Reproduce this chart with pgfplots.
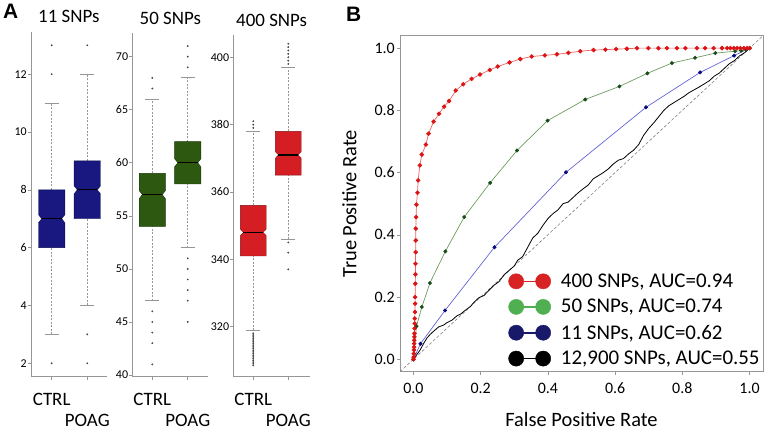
\documentclass[border=0pt]{standalone}
\usepackage{fontspec}
\setmainfont{Carlito}
\newfontfamily\arialfont{Liberation Sans}
\usepackage{pgfplots}
\pgfplotsset{compat=1.18}

\definecolor{navybox}{RGB}{24,24,128}
\definecolor{greenbox}{RGB}{44,88,16}
\definecolor{redbox}{RGB}{212,30,36}
\definecolor{whisk}{RGB}{150,150,150}
\definecolor{outl}{RGB}{70,70,70}
\definecolor{axgray}{RGB}{150,150,150}
\definecolor{rocred}{RGB}{221,20,20}
\definecolor{rocredline}{RGB}{235,100,100}
\definecolor{rocgreen}{RGB}{25,75,25}
\definecolor{rocgreenline}{RGB}{110,155,95}
\definecolor{rocblue}{RGB}{10,10,125}
\definecolor{rocblueline}{RGB}{100,100,215}
\definecolor{legred}{RGB}{215,35,35}
\definecolor{leggreen}{RGB}{80,175,80}
\definecolor{legnavy}{RGB}{25,25,105}

\pgfplotsset{
  panelA/.style={
    anchor=south west, scale only axis,
    axis lines*=left,
    axis line style={axgray, line width=0.6bp},
    tick style={axgray, line width=0.6bp},
    tick align=outside, major tick length=3bp,
    xtick={1}, xticklabels={CTRL},
    extra x ticks={2}, extra x tick labels={POAG},
    extra x tick style={xticklabel style={yshift=-21bp}},
    xticklabel style={font=\fontsize{19}{19}\selectfont, anchor=north, inner sep=0pt, yshift=-13bp},
    yticklabel style={font=\fontsize{12}{12}\selectfont, anchor=east, inner sep=0pt, xshift=-1bp},
    /pgf/number format/assume math mode=true,
    title style={font=\fontsize{19}{19}\selectfont, at={(0.5,1)}, anchor=base, inner sep=0pt, yshift=3bp},
    clip=false,
  },
  whisker/.style={whisk, line width=0.6bp, dash pattern=on 2bp off 1.5bp, forget plot},
  cap/.style={whisk, line width=0.8bp, forget plot},
  outlier/.style={only marks, mark=*, mark size=0.7bp, outl, forget plot},
  medline/.style={black, line width=1.2bp, forget plot},
}

\begin{document}
\begin{tikzpicture}
\useasboundingbox (0,0) rectangle (765bp,431bp);

\node[anchor=base west, inner sep=0pt, font=\arialfont\bfseries\fontsize{21}{21}\selectfont] at (3bp,412.7bp) {A};
\node[anchor=base west, inner sep=0pt, font=\arialfont\bfseries\fontsize{21}{21}\selectfont] at (346bp,409.3bp) {B};

% ---------- Panel A1: 11 SNPs ----------
\begin{axis}[panelA, at={(31bp,54.3bp)}, width=75.7bp, height=345bp,
  xmin=0.419, xmax=2.545, ymin=1.536, ymax=13.47,
  ytick={2,4,6,8,10,12}, title={11 SNPs}]
\addplot[whisker] coordinates {(1,3) (1,6)};
\addplot[whisker] coordinates {(1,8) (1,11)};
\addplot[cap] coordinates {(0.8,3) (1.2,3)};
\addplot[cap] coordinates {(0.8,11) (1.2,11)};
\addplot[whisker] coordinates {(2,4) (2,7)};
\addplot[whisker] coordinates {(2,9) (2,12)};
\addplot[cap] coordinates {(1.8,4) (2.2,4)};
\addplot[cap] coordinates {(1.8,12) (2.2,12)};
\addplot[fill=navybox, draw=navybox!60!black, line width=0.4bp, forget plot] coordinates
 {(0.63,6) (1.37,6) (1.37,6.86) (1.28,7) (1.37,7.14) (1.37,8) (0.63,8) (0.63,7.14) (0.72,7) (0.63,6.86)} --cycle;
\addplot[fill=navybox, draw=navybox!60!black, line width=0.4bp, forget plot] coordinates
 {(1.63,7) (2.37,7) (2.37,7.86) (2.28,8) (2.37,8.14) (2.37,9) (1.63,9) (1.63,8.14) (1.72,8) (1.63,7.86)} --cycle;
\addplot[medline] coordinates {(0.72,7) (1.28,7)};
\addplot[medline] coordinates {(1.72,8) (2.28,8)};
\addplot[outlier] coordinates {(1,2) (1,12) (1,13) (2,2) (2,3) (2,13)};
\end{axis}

% ---------- Panel A2: 50 SNPs ----------
\begin{axis}[panelA, at={(132.3bp,54.3bp)}, width=76bp, height=343.7bp,
  xmin=0.435, xmax=2.58, ymin=39.84, ymax=72.23,
  ytick={40,45,50,55,60,65,70}, title={50 SNPs}]
\addplot[whisker] coordinates {(1,47) (1,54)};
\addplot[whisker] coordinates {(1,59) (1,66)};
\addplot[cap] coordinates {(0.8,47) (1.2,47)};
\addplot[cap] coordinates {(0.8,66) (1.2,66)};
\addplot[whisker] coordinates {(2,52) (2,58)};
\addplot[whisker] coordinates {(2,62) (2,68)};
\addplot[cap] coordinates {(1.8,52) (2.2,52)};
\addplot[cap] coordinates {(1.8,68) (2.2,68)};
\addplot[fill=greenbox, draw=greenbox!60!black, line width=0.4bp, forget plot] coordinates
 {(0.63,54) (1.37,54) (1.37,56.62) (1.28,57) (1.37,57.38) (1.37,59) (0.63,59) (0.63,57.38) (0.72,57) (0.63,56.62)} --cycle;
\addplot[fill=greenbox, draw=greenbox!60!black, line width=0.4bp, forget plot] coordinates
 {(1.63,58) (2.37,58) (2.37,59.62) (2.28,60) (2.37,60.38) (2.37,62) (1.63,62) (1.63,60.38) (1.72,60) (1.63,59.62)} --cycle;
\addplot[medline] coordinates {(0.72,57) (1.28,57)};
\addplot[medline] coordinates {(1.72,60) (2.28,60)};
\addplot[outlier] coordinates {(1,41) (1,43) (1,44) (1,45) (1,46) (1,67) (1,68)
 (2,45) (2,47) (2,48) (2,49) (2,50) (2,51) (2,69) (2,70) (2,71)};
\end{axis}

% ---------- Panel A3: 400 SNPs ----------
\begin{axis}[panelA, at={(233.3bp,54.3bp)}, width=76.7bp, height=341.7bp,
  xmin=0.43, xmax=2.62, ymin=305.15, ymax=406.6,
  ytick={320,340,360,380,400}, title={400 SNPs}]
\addplot[whisker] coordinates {(1,319) (1,341)};
\addplot[whisker] coordinates {(1,356) (1,378)};
\addplot[cap] coordinates {(0.8,319) (1.2,319)};
\addplot[cap] coordinates {(0.8,378) (1.2,378)};
\addplot[whisker] coordinates {(2,346) (2,365)};
\addplot[whisker] coordinates {(2,378) (2,397)};
\addplot[cap] coordinates {(1.8,346) (2.2,346)};
\addplot[cap] coordinates {(1.8,397) (2.2,397)};
\addplot[fill=redbox, draw=redbox!60!black, line width=0.4bp, forget plot] coordinates
 {(0.63,341) (1.37,341) (1.37,347) (1.28,348) (1.37,349) (1.37,356) (0.63,356) (0.63,349) (0.72,348) (0.63,347)} --cycle;
\addplot[fill=redbox, draw=redbox!60!black, line width=0.4bp, forget plot] coordinates
 {(1.63,365) (2.37,365) (2.37,370) (2.28,371) (2.37,372) (2.37,378) (1.63,378) (1.63,372) (1.72,371) (1.63,370)} --cycle;
\addplot[medline] coordinates {(0.72,348) (1.28,348)};
\addplot[medline] coordinates {(1.72,371) (2.28,371)};
\addplot[outlier] coordinates {(1,379) (1,380) (1,381)
 (1,318) (1,317.5) (1,317) (1,316.5) (1,316) (1,315.5) (1,315) (1,314.5) (1,314) (1,313.5)
 (1,313) (1,312.5) (1,312) (1,311.5) (1,311) (1,310.5) (1,310) (1,309.5) (1,309) (1,308.5)
 (2,337) (2,342) (2,345) (2,398) (2,399) (2,400) (2,401) (2,402) (2,403) (2,404)};
\end{axis}

% ---------- Panel B: ROC ----------
\begin{axis}[anchor=south west, at={(400bp,59.3bp)}, scale only axis,
  width=363bp, height=336bp,
  xmin=-0.04, xmax=1.04, ymin=-0.04, ymax=1.04,
  axis line style={axgray, line width=0.6bp},
  tick style={axgray, line width=0.6bp},
  tick align=outside, major tick length=3bp,
  xtick pos=lower, ytick pos=left,
  xtick={0,0.2,0.4,0.6,0.8,1.0}, ytick={0,0.2,0.4,0.6,0.8,1.0},
  /pgf/number format/assume math mode=true,
  /pgf/number format/.cd, fixed, fixed zerofill, precision=1, /pgfplots/.cd,
  xticklabel style={font=\fontsize{16}{16}\selectfont, anchor=north, inner sep=0pt, yshift=-8bp},
  yticklabel style={font=\fontsize{16}{16}\selectfont, anchor=east, inner sep=0pt, xshift=-2bp},
  xlabel={False Positive Rate}, ylabel={True Positive Rate},
  xlabel style={font=\fontsize{20.5}{20.5}\selectfont, at={(axis description cs:0.5,-0.1616)}, anchor=base, inner sep=0pt},
  ylabel style={font=\fontsize{20.5}{20.5}\selectfont, at={(axis description cs:-0.12,0.5)}, anchor=base, inner sep=0pt},
  legend image code/.code={
    \draw[#1, line width=1.6bp] (0bp,0bp) -- (27bp,0bp);
    \fill[#1] (0bp,0bp) circle (7.6bp);
    \fill[#1] (27bp,0bp) circle (7.6bp);
  },
  legend style={at={(0.298,0.295)}, anchor=north west, draw=none, fill=none,
    font=\fontsize{21}{21}\selectfont, inner sep=0pt, row sep=8.5bp,
    nodes={inner sep=1bp}},
  legend cell align=left,
  /tikz/every odd column/.append style={column sep=9bp},
]
\addplot[gray, line width=0.6bp, dash pattern=on 3bp off 2bp, forget plot] coordinates {(-0.04,-0.04) (1.04,1.04)};

% 12,900 SNPs
\addplot[black, line width=0.8bp, forget plot] coordinates {
(0,0) (0.01,0.015) (0.02,0.03) (0.03,0.05) (0.04,0.068) (0.05,0.08) (0.06,0.09) (0.075,0.104)
(0.09,0.11) (0.1,0.118) (0.115,0.126) (0.13,0.14) (0.14,0.145) (0.155,0.158) (0.17,0.17)
(0.18,0.183) (0.195,0.198) (0.21,0.205) (0.225,0.222) (0.24,0.238) (0.255,0.25) (0.27,0.272)
(0.285,0.286) (0.3,0.3) (0.31,0.318) (0.325,0.33) (0.34,0.36) (0.355,0.39) (0.37,0.405)
(0.385,0.43) (0.4,0.452) (0.415,0.468) (0.43,0.48) (0.445,0.5) (0.46,0.505) (0.475,0.52)
(0.49,0.535) (0.505,0.548) (0.52,0.56) (0.535,0.58) (0.55,0.59) (0.565,0.6) (0.58,0.612)
(0.595,0.628) (0.61,0.64) (0.625,0.645) (0.64,0.66) (0.655,0.672) (0.67,0.69) (0.685,0.72)
(0.7,0.742) (0.715,0.76) (0.73,0.78) (0.745,0.8) (0.76,0.815) (0.775,0.825) (0.79,0.835)
(0.805,0.845) (0.82,0.857) (0.835,0.866) (0.85,0.875) (0.865,0.885) (0.88,0.895) (0.895,0.91)
(0.91,0.92) (0.925,0.935) (0.94,0.95) (0.955,0.96) (0.97,0.975) (0.985,0.985) (1,1)};

% 11 SNPs
\addplot[rocblueline, line width=0.7bp, mark=*, mark size=1.6bp,
  mark options={fill=rocblue, draw=rocblue}, forget plot] coordinates {
(0,0) (0.021,0.05) (0.094,0.157) (0.241,0.36) (0.454,0.601) (0.692,0.81) (0.853,0.922) (0.954,0.976) (1,1)};

% 50 SNPs
\addplot[rocgreenline, line width=0.7bp, mark=*, mark size=1.6bp,
  mark options={fill=rocgreen, draw=rocgreen}, forget plot] coordinates {
(0,0) (0.009,0.106) (0.025,0.168) (0.049,0.245) (0.095,0.347) (0.151,0.457) (0.228,0.567)
(0.308,0.671) (0.399,0.767) (0.511,0.835) (0.613,0.877) (0.696,0.919) (0.769,0.952)
(0.838,0.969) (0.898,0.984) (0.957,0.99) (0.975,0.992) (0.99,0.995) (1,1)};

% 400 SNPs
\addplot[rocredline, line width=0.7bp, mark=*, mark size=1.9bp,
  mark options={fill=rocred, draw=rocred}, forget plot] coordinates {
(0,0) (0.0005,0.007) (0.001,0.018) (0.0015,0.03) (0.002,0.039) (0.002,0.05) (0.0025,0.061)
(0.003,0.072) (0.003,0.083) (0.0035,0.099) (0.004,0.115) (0.004,0.131) (0.0045,0.152)
(0.005,0.179) (0.005,0.2) (0.0055,0.243) (0.006,0.273) (0.006,0.307) (0.0065,0.344)
(0.007,0.382) (0.007,0.42) (0.008,0.457) (0.009,0.497) (0.012,0.535) (0.014,0.575)
(0.019,0.623) (0.025,0.658) (0.037,0.69) (0.045,0.725) (0.06,0.764) (0.076,0.789)
(0.091,0.812) (0.106,0.83) (0.126,0.864) (0.148,0.884) (0.173,0.901) (0.198,0.915)
(0.227,0.93) (0.251,0.941) (0.286,0.954) (0.318,0.965) (0.352,0.973) (0.391,0.977)
(0.427,0.98) (0.461,0.985) (0.496,0.99) (0.536,0.994) (0.571,0.995) (0.603,0.997)
(0.635,0.998) (0.665,1) (0.699,1) (0.729,1) (0.754,1) (0.784,1) (0.809,1) (0.843,1)
(0.868,1) (0.893,1) (0.918,1) (0.933,1) (0.943,1) (0.953,1) (0.963,1) (0.973,1)
(0.983,1) (0.993,1) (1,1)};

\addlegendimage{legred}
\addlegendentry{400 SNPs, AUC=0.94}
\addlegendimage{leggreen}
\addlegendentry{50 SNPs, AUC=0.74}
\addlegendimage{legnavy}
\addlegendentry{11 SNPs, AUC=0.62}
\addlegendimage{black}
\addlegendentry{12,900 SNPs, AUC=0.55}
\end{axis}
\end{tikzpicture}
\end{document}
